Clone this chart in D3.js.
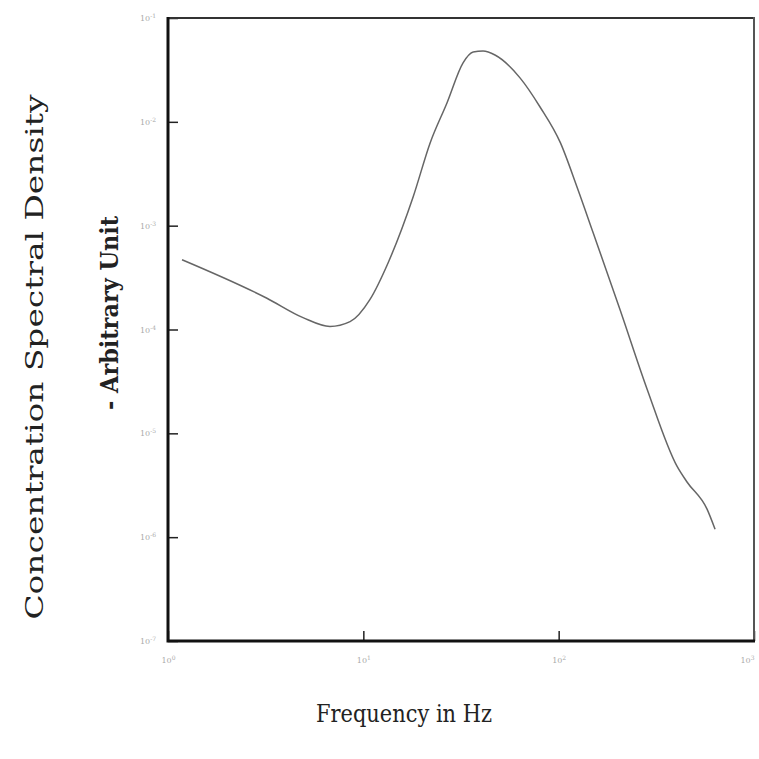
<!DOCTYPE html>
<html>
<head>
<meta charset="utf-8">
<script src="https://cdn.jsdelivr.net/npm/d3@7"></script>
<style>
  body { margin: 0; background: #fff; }
  svg { display: block; }
</style>
</head>
<body>
<div id="chart"></div>
<script>
const width = 759;
const height = 759;
const margin = { top: 18, right: 5, bottom: 118, left: 168 };

// frequency (Hz) and spectral density
const freq = [1.18, 3.21, 4.91, 6.75, 8.55, 10.8, 13.4, 18.0, 22.0, 26.8, 32.4, 36.5,
              41.0, 47.2, 63.4, 80.3, 102, 124, 150, 206, 284, 404, 454, 575, 632];
const density = [4.7e-4, 2.0e-4, 1.3e-4, 1.07e-4, 1.19e-4, 1.94e-4, 4.4e-4, 1.9e-3, 6.3e-3,
                 1.52e-2, 3.7e-2, 4.7e-2, 4.8e-2, 4.4e-2, 2.65e-2, 1.39e-2, 6.3e-3, 2.37e-3,
                 8.6e-4, 1.56e-4, 2.65e-5, 4.8e-6, 3.4e-6, 1.86e-6, 1.19e-6];

const xTicks = [1, 10, 100, 1000];
const xExps = ["0", "1", "2", "3"];
const yTicks = [1e-1, 1e-2, 1e-3, 1e-4, 1e-5, 1e-6, 1e-7];
const yExps = ["-1", "-2", "-3", "-4", "-5", "-6", "-7"];

const svg = d3.select("#chart")
  .append("svg")
  .attr("width", width)
  .attr("height", height);

const x = d3.scaleLog()
  .domain([1, 1000])
  .range([margin.left, width - margin.right]);

const y = d3.scaleLog()
  .domain([1e-7, 1e-1])
  .range([height - margin.bottom, margin.top]);

// axes with ticks pointing inwards
const xAxis = d3.axisBottom(x)
  .tickValues(xTicks)
  .tickSizeInner(-10)
  .tickSizeOuter(0)
  .tickPadding(16)
  .tickFormat(() => "10");

const yAxis = d3.axisLeft(y)
  .tickValues(yTicks)
  .tickSizeInner(-10)
  .tickSizeOuter(0)
  .tickPadding(12)
  .tickFormat(() => "10");

const gx = svg.append("g")
  .attr("transform", `translate(0, ${height - margin.bottom})`)
  .call(xAxis);

const gy = svg.append("g")
  .attr("transform", `translate(${margin.left}, 0)`)
  .call(yAxis);

[gx, gy].forEach(g => {
  g.select(".domain").remove();
  g.selectAll(".tick line").attr("stroke", "#222").attr("stroke-width", 1.5);
  g.selectAll(".tick text")
    .attr("fill", "#aaa")
    .style("font-family", "'DejaVu Serif', serif")
    .style("font-size", "8px");
});

gx.selectAll(".tick text")
  .attr("text-anchor", (d, i) => i === xTicks.length - 1 ? "end" : "middle")
  .append("tspan")
  .attr("dy", "-0.5em")
  .style("font-size", "6px")
  .text((d, i) => xExps[i]);

gy.selectAll(".tick text")
  .append("tspan")
  .attr("dy", "-0.5em")
  .style("font-size", "6px")
  .text((d, i) => yExps[i]);

// frame: heavier on the left and bottom, lighter top and right like the scan
const x0 = margin.left, x1 = width - margin.right;
const y0 = margin.top, y1 = height - margin.bottom;

svg.append("path")
  .attr("d", `M${x1},${y0}H${x0 + 1}`)
  .attr("stroke", "#333")
  .attr("stroke-width", 2);
svg.append("path")
  .attr("d", `M${x1},${y0 - 1}V${y1}`)
  .attr("stroke", "#555")
  .attr("stroke-width", 2);
svg.append("path")
  .attr("d", `M${x0},${y0 - 1}V${y1}H${x1 + 1}`)
  .attr("fill", "none")
  .attr("stroke", "#111")
  .attr("stroke-width", 3);

const line = d3.line()
  .x((d, i) => x(freq[i]))
  .y(d => y(d))
  .curve(d3.curveMonotoneX);

svg.append("path")
  .datum(density)
  .attr("d", line)
  .attr("fill", "none")
  .attr("stroke", "#666")
  .attr("stroke-width", 1.5);

// axis titles
svg.append("text")
  .attr("transform", "translate(43, 357) rotate(-90)")
  .attr("text-anchor", "middle")
  .attr("textLength", 525)
  .attr("lengthAdjust", "spacingAndGlyphs")
  .style("font-family", "'DejaVu Serif', serif")
  .style("font-size", "25px")
  .attr("fill", "#222")
  .text("Concentration Spectral Density");

svg.append("text")
  .attr("transform", "translate(118, 313) rotate(-90)")
  .attr("text-anchor", "middle")
  .attr("textLength", 194)
  .attr("lengthAdjust", "spacingAndGlyphs")
  .style("font-family", "'DejaVu Serif', serif")
  .style("font-size", "24px")
  .style("font-weight", "bold")
  .attr("fill", "#222")
  .text("- Arbitrary Unit");

svg.append("text")
  .attr("x", 404)
  .attr("y", 722)
  .attr("text-anchor", "middle")
  .attr("textLength", 176)
  .attr("lengthAdjust", "spacingAndGlyphs")
  .style("font-family", "'DejaVu Serif', serif")
  .style("font-size", "24px")
  .attr("fill", "#222")
  .text("Frequency in Hz");
</script>
</body>
</html>
